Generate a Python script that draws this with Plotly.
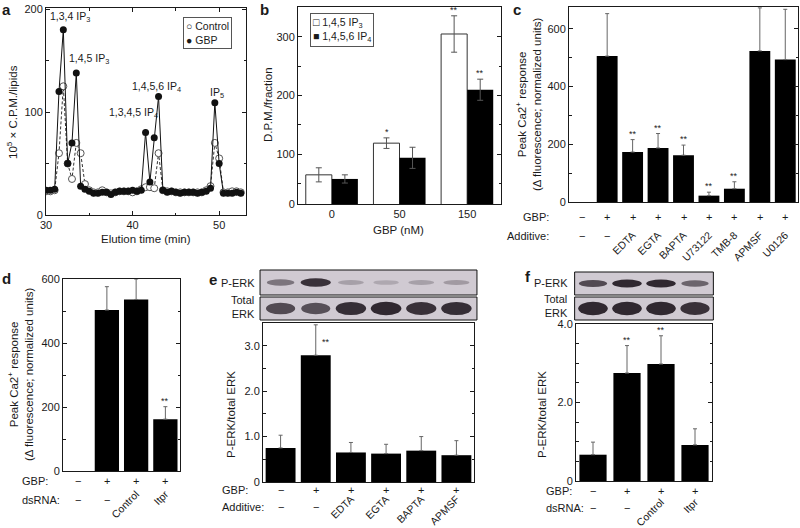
import plotly.graph_objects as go

FONT = "Liberation Sans, Arial, Helvetica, sans-serif"
INK = "#1a1a1a"
W, H = 800, 528

# ---------------- data ----------------
# a: inositol phosphate elution profile (fractions every 0.5 min)
elution_time = [30.0, 30.5, 31.0, 31.5, 32.0, 32.5, 33.0, 33.5, 34.0, 34.5,
                35.0, 35.5, 36.0, 36.5, 37.0, 37.5, 38.0, 38.5, 39.0, 39.5,
                40.0, 40.5, 41.0, 41.5, 42.0, 42.5, 43.0, 43.5, 44.0, 44.5,
                45.0, 45.5, 46.0, 46.5, 47.0, 47.5, 48.0, 48.5, 49.0, 49.5,
                50.0, 50.5, 51.0, 51.5, 52.0, 52.5]
control_cpm = [23, 23, 24, 60, 125, 50, 35, 70, 60, 30,
               24, 22, 22, 24, 22, 21, 22, 23, 23, 23,
               22, 23, 25, 27, 27, 26, 60, 24, 23, 23,
               22, 22, 22, 22, 22, 22, 22, 24, 28, 70,
               55, 22, 22, 23, 23, 22]
gbp_cpm = [24, 24, 25, 120, 180, 50, 70, 138, 28, 25,
           23, 21, 21, 22, 22, 20, 22, 23, 23, 23,
           24, 23, 24, 80, 32, 75, 115, 24, 22, 23,
           22, 21, 22, 22, 22, 21, 22, 23, 26, 109,
           50, 21, 21, 21, 22, 21]
peak_times = [32.0, 33.5, 41.5, 43.0, 49.5]
peak_names = ["1,3,4 IP<sub>3</sub>", "1,4,5 IP<sub>3</sub>", "1,3,4,5 IP<sub>4</sub>",
              "1,4,5,6 IP<sub>4</sub>", "IP<sub>5</sub>"]

# b: IP3 / IP4 mass vs GBP dose (the printed axis puts its "0" label at ~15)
gbp_dose = ["0", "50", "150"]
ip3_dpm = [65, 119, 305]
ip3_err = [12, 9, 31]
ip3_stars = ["", "*", "**"]
ip4_dpm = [58, 94, 210]
ip4_err = [7, 18, 18]
ip4_stars = ["", "", "**"]
dpm_ticks = [15.3, 100, 200, 300]
dpm_ticktext = ["0", "100", "200", "300"]

# c: peak Ca2+ response with additives
gbp_c = ["−", "+", "+", "+", "+", "+", "+", "+", "+"]
additive_c = ["−", "−", "EDTA", "EGTA", "BAPTA", "U73122", "TMB-8", "APMSF", "U0126"]
ca_c = [None, 505, 173, 187, 162, 22, 46, 523, 493]
ca_c_err = [0, 147, 43, 50, 35, 12, 24, 149, 174]
stars_c = ["", "", "**", "**", "**", "**", "**", "", ""]

# d: peak Ca2+ response with dsRNA
gbp_d = ["−", "+", "+", "+"]
dsrna_d = ["−", "−", "Control", "Itpr"]
ca_d = [None, 503, 536, 162]
ca_d_err = [0, 73, 64, 39]
stars_d = ["", "", "", "**"]

# e: P-ERK / total ERK with additives
gbp_e = ["−", "+", "+", "+", "+", "+"]
additive_e = ["−", "−", "EDTA", "EGTA", "BAPTA", "APMSF"]
erk_e = [0.75, 2.79, 0.65, 0.625, 0.69, 0.59]
erk_e_err = [0.28, 0.67, 0.22, 0.205, 0.31, 0.32]
stars_e = ["", "**", "", "", "", ""]
perk_band_e = [0.5, 0.9, 0.25, 0.2, 0.25, 0.28]
total_band_e = [0.75, 0.72, 0.92, 0.95, 0.9, 0.92]

# f: P-ERK / total ERK with dsRNA
gbp_f = ["−", "+", "+", "+"]
dsrna_f = ["−", "−", "Control", "Itpr"]
erk_f = [0.67, 2.75, 2.98, 0.92]
erk_f_err = [0.32, 0.70, 0.72, 0.41]
stars_f = ["", "**", "**", ""]
perk_band_f = [0.75, 0.95, 0.95, 0.6]
total_band_f = [0.95, 0.95, 0.95, 0.9]


def dx(a, b):
    return [a / W, b / W]


def dy(top, bottom):
    return [1 - bottom / H, 1 - top / H]


def px(x):
    return x / W


def py(y):
    return 1 - y / H


TICKFONT = dict(family=FONT, size=11, color=INK)


def frame_axis(domain, anchor, **kw):
    d = dict(domain=domain, anchor=anchor, showline=True, linecolor=INK, linewidth=1,
             mirror="ticks", ticks="inside", ticklen=4, tickcolor=INK, tickwidth=1,
             showgrid=False, zeroline=False, tickfont=TICKFONT, fixedrange=True,
             automargin=False)
    d.update(kw)
    return d


def minor(step, tick0=0):
    return dict(tickmode="linear", tick0=tick0, dtick=step, ticks="inside", ticklen=2.5,
                tickcolor=INK, showgrid=False)


fig = go.Figure()
annotations = []
shapes = []


def note(text, x, y, size=11, **kw):
    d = dict(text=text, x=px(x), y=py(y), xref="paper", yref="paper", showarrow=False,
             xanchor="center", yanchor="middle",
             font=dict(family=FONT, size=size, color=INK))
    d.update(kw)
    annotations.append(d)


def small(text, x, y, xref, yref, size=11, **kw):
    d = dict(text=text, x=x, y=y, xref=xref, yref=yref, showarrow=False,
             xanchor="center", yanchor="middle",
             font=dict(family=FONT, size=size, color=INK))
    d.update(kw)
    annotations.append(d)


# ---------------- a ----------------
fig.add_trace(go.Scatter(
    x=elution_time, y=control_cpm, mode="lines+markers", xaxis="x", yaxis="y",
    line=dict(color="#333", width=1, dash="3px,2px"),
    marker=dict(symbol="circle", size=7, color="white", line=dict(color="#555", width=1)),
    showlegend=False, hoverinfo="skip"))
fig.add_trace(go.Scatter(
    x=elution_time, y=gbp_cpm, mode="lines+markers", xaxis="x", yaxis="y",
    line=dict(color="#111", width=1),
    marker=dict(symbol="circle", size=7, color="#111"),
    showlegend=False, hoverinfo="skip"))

label_shift = [(7, 13), (13, 14), (-12, 20), (-2, 10), (2, 10)]
for t, name, (sx, sy) in zip(peak_times, peak_names, label_shift):
    small(name, t, gbp_cpm[elution_time.index(t)], "x", "y", size=10.5, xshift=sx, yshift=sy)

note("○ Control<br>● GBP", 182.7, 16.7, size=10.5, xanchor="left", yanchor="top", align="left",
     bordercolor="#555", borderwidth=1, borderpad=2, bgcolor="white")

# ---------------- b ----------------
idx_b = list(range(len(gbp_dose)))
fig.add_trace(go.Bar(
    x=idx_b, y=ip3_dpm, offset=-0.385, width=0.385, xaxis="x2", yaxis="y2",
    marker=dict(color="white", line=dict(color="#333", width=1)),
    error_y=dict(type="data", array=ip3_err, color="#555", thickness=1, width=3),
    showlegend=False, hoverinfo="skip"))
fig.add_trace(go.Bar(
    x=idx_b, y=ip4_dpm, offset=0, width=0.385, xaxis="x2", yaxis="y2",
    marker=dict(color="black", line=dict(width=0)),
    error_y=dict(type="data", array=ip4_err, color="#555", thickness=1, width=3),
    showlegend=False, hoverinfo="skip"))
for i in idx_b:
    for vals, errs, st, off in ((ip3_dpm, ip3_err, ip3_stars, -0.19), (ip4_dpm, ip4_err, ip4_stars, 0.19)):
        if st[i]:
            small(st[i], i + off, vals[i] + errs[i], "x2", "y2", size=9, yanchor="bottom", yshift=-1)

note("□ 1,4,5 IP<sub>3</sub><br>■ 1,4,5,6 IP<sub>4</sub>", 310, 12.7, size=10.5, xanchor="left",
     yanchor="top", align="left", bordercolor="#555", borderwidth=1, borderpad=2, bgcolor="white")


# ---------------- bar panels c-f ----------------
def bar_panel(ax, vals, errs, stars, width, ymax):
    idx = list(range(len(vals)))
    fig.add_trace(go.Bar(
        x=idx, y=vals, width=width, xaxis="x" + ax, yaxis="y" + ax,
        marker=dict(color="black", line=dict(width=0)),
        error_y=dict(type="data", array=errs, arrayminus=[0] * len(errs), symmetric=False,
                     color="#666", thickness=1, width=2),
        showlegend=False, hoverinfo="skip"))
    for i in idx:
        if not stars[i]:
            continue
        top = vals[i] + errs[i]
        if top > 0.95 * ymax:
            small(stars[i], i, 0.88 * ymax, "x" + ax, "y" + ax, size=9, xshift=10)
        else:
            small(stars[i], i, top, "x" + ax, "y" + ax, size=9, yanchor="bottom", yshift=-1)


def sign_rows(ax, gbp, extra, row1, row2):
    for i, (g, e) in enumerate(zip(gbp, extra)):
        small(g, i, py(row1), "x" + ax, "paper")
        if e == "−":
            small(e, i, py(row2), "x" + ax, "paper")


bar_panel("3", ca_c, ca_c_err, stars_c, 0.82, 675)
bar_panel("4", ca_d, ca_d_err, stars_d, 0.83, 600)
bar_panel("5", erk_e, erk_e_err, stars_e, 0.85, 3.5)
bar_panel("8", erk_f, erk_f_err, stars_f, 0.80, 4.0)

sign_rows("3", gbp_c, additive_c, 217, 236)
sign_rows("4", gbp_d, dsrna_d, 481, 500)
sign_rows("5", gbp_e, additive_e, 490, 507)
sign_rows("8", gbp_f, dsrna_f, 491, 508)

note("GBP:", 551, 217, xanchor="right")
note("Additive:", 551, 236, xanchor="right")
note("GBP:", 20, 481, xanchor="left")
note("dsRNA:", 20, 500, xanchor="left")
note("GBP:", 220, 490, xanchor="left")
note("Additive:", 220, 507, xanchor="left")
note("GBP:", 544, 491, xanchor="left")
note("dsRNA:", 544, 508, xanchor="left")

# ---------------- blots ----------------
BLOT_BG = (208, 202, 210)
BAND = (40, 32, 40)


def band_color(v):
    c = [round(b + (k - b) * v) for b, k in zip(BLOT_BG, BAND)]
    return "rgb(%d,%d,%d)" % tuple(c)


def blot(ax, intensities, thick, pad):
    fig.add_trace(go.Scatter(x=[0], y=[0.5], mode="markers", marker=dict(opacity=0),
                             xaxis="x" + ax, yaxis="y" + ax, showlegend=False, hoverinfo="skip"))
    shapes.append(dict(type="rect", xref="x%s domain" % ax, yref="y%s domain" % ax,
                       x0=-pad, x1=1 + pad, y0=0, y1=1, fillcolor="rgb(%d,%d,%d)" % BLOT_BG,
                       line=dict(color="#111", width=1), layer="below"))
    for i, v in enumerate(intensities):
        hh = thick * (0.4 + 0.6 * v) / 2
        hw = 0.34 + 0.1 * v
        shapes.append(dict(type="circle", xref="x" + ax, yref="y" + ax, x0=i - hw, x1=i + hw,
                           y0=0.5 - hh, y1=0.5 + hh, fillcolor=band_color(v), line=dict(width=0)))


blot("6", perk_band_e, 0.36, 0.014)
blot("7", total_band_e, 0.6, 0.014)
blot("9", perk_band_f, 0.36, 0.01)
blot("10", total_band_f, 0.6, 0.01)

note("P-ERK", 257, 283, xanchor="right")
note("Total<br>ERK", 257, 307, xanchor="right", align="right")
note("P-ERK", 570, 283, xanchor="right")
note("Total<br>ERK", 570, 306, xanchor="right", align="right")

# ---------------- titles and panel letters ----------------
note("10<sup>5</sup> × C.P.M./lipids", 12, 112, size=11.5, textangle=-90)
note("Elution time (min)", 146, 239, size=11.5)
note("D.P.M./fraction", 268, 105, size=11.5, textangle=-90)
note("GBP (nM)", 398, 230, size=11.5)
ca_title = "Peak Ca2<sup>+</sup> response<br>(Δ fluorescence; normalized units)"
note(ca_title, 528, 105, size=11.5, textangle=-90)
note(ca_title, 20, 375, size=11.5, textangle=-90)
note("P-ERK/total ERK", 231, 415, size=11.5, textangle=-90)
note("P-ERK/total ERK", 542, 415, size=11.5, textangle=-90)

for letter, lx, ly in (("a", 6, 9), ("b", 264, 9), ("c", 517, 10), ("d", 6, 278), ("e", 213, 279), ("f", 528, 276)):
    note("<b>%s</b>" % letter, lx, ly, size=15)

# ---------------- axes ----------------
hidden = dict(visible=False, fixedrange=True, automargin=False)


def cat_x(standoff, shift=0):
    return dict(ticks="", mirror=True, tickangle=-45, ticklabelstandoff=standoff,
                ticklabelshift=shift, tickfont=dict(family=FONT, size=10.5, color=INK))


def rot_labels(labels):
    return [("" if s == "−" else s) for s in labels]


fig.update_layout(
    template="none",
    width=W, height=H, margin=dict(l=0, r=0, t=0, b=0, pad=0), autosize=False,
    paper_bgcolor="white", plot_bgcolor="white", hovermode=False,
    font=dict(family=FONT, size=11, color=INK),
    xaxis=frame_axis(dx(46, 246), "y", range=[30, 53.1], tick0=30, dtick=10, minor=minor(5)),
    yaxis=frame_axis(dy(8, 215), "x", range=[0, 201], dtick=100, minor=minor(50)),
    xaxis2=frame_axis(dx(298, 501), "y2", range=[-0.5, 2.5], tickvals=idx_b, ticktext=gbp_dose,
                      ticks="", mirror=True),
    yaxis2=frame_axis(dy(7, 204), "x2", range=[15.3, 351], tickvals=dpm_ticks, ticktext=dpm_ticktext,
                      minor=minor(50, 50)),
    xaxis3=frame_axis(dx(569, 798), "y3", range=[-0.5, 8.5], tickvals=list(range(len(additive_c))),
                      ticktext=rot_labels(additive_c), **cat_x(22)),
    yaxis3=frame_axis(dy(7, 202), "x3", range=[0, 675], tickvals=[0, 200, 400, 600], minor=minor(100)),
    xaxis4=frame_axis(dx(63, 180), "y4", range=[-0.5, 3.5], tickvals=list(range(len(dsrna_d))),
                      ticktext=rot_labels(dsrna_d), **cat_x(12)),
    yaxis4=frame_axis(dy(279, 471), "x4", range=[0, 600], dtick=200, minor=minor(100)),
    xaxis5=frame_axis(dx(263, 474), "y5", range=[-0.5, 5.5], tickvals=list(range(len(additive_e))),
                      ticktext=rot_labels(additive_e), **cat_x(6)),
    yaxis5=frame_axis(dy(323, 482), "x5", range=[0, 3.5], tickvals=[0, 1, 2, 3],
                      ticktext=["0", "1.0", "2.0", "3.0"], minor=minor(0.5)),
    xaxis6=dict(domain=dx(263, 474), anchor="y6", range=[-0.5, 5.5], **hidden),
    yaxis6=dict(domain=dy(270, 295), anchor="x6", range=[0, 1], **hidden),
    xaxis7=dict(domain=dx(263, 474), anchor="y7", range=[-0.5, 5.5], **hidden),
    yaxis7=dict(domain=dy(297, 320), anchor="x7", range=[0, 1], **hidden),
    xaxis8=frame_axis(dx(576, 712), "y8", range=[-0.5, 3.5], tickvals=list(range(len(dsrna_f))),
                      ticktext=rot_labels(dsrna_f), **cat_x(10)),
    yaxis8=frame_axis(dy(324, 481), "x8", range=[0, 4], tickvals=[0, 2, 4],
                      ticktext=["0", "2.0", "4.0"], minor=minor(0.5)),
    xaxis9=dict(domain=dx(576, 712), anchor="y9", range=[-0.5, 3.5], **hidden),
    yaxis9=dict(domain=dy(272, 295), anchor="x9", range=[0, 1], **hidden),
    xaxis10=dict(domain=dx(576, 712), anchor="y10", range=[-0.5, 3.5], **hidden),
    yaxis10=dict(domain=dy(297, 320), anchor="x10", range=[0, 1], **hidden),
    annotations=annotations,
    shapes=shapes,
)

# the page body has a default 8px margin; drop it so the figure sits at the window origin
fig.write_html("out.html", config={"displayModeBar": False},
               post_script="document.body.style.margin = '0';")
